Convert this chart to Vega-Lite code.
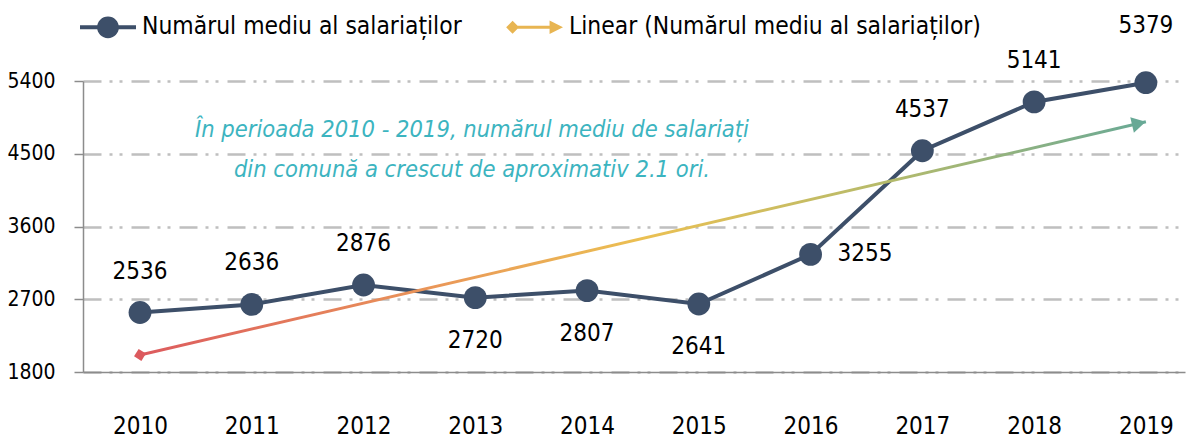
{
  "$schema": "https://vega.github.io/schema/vega-lite/v6.json",
  "width": 1102,
  "height": 291,
  "autosize": {"type": "none"},
  "padding": {"left": 83, "top": 81, "right": 7, "bottom": 67},
  "background": "white",
  "config": {
    "font": "DejaVu Sans Condensed, Roboto Condensed, Arial Narrow, sans-serif",
    "view": {"stroke": null},
    "legend": {
      "orient": "none",
      "legendX": -3,
      "legendY": -82,
      "direction": "horizontal",
      "symbolSize": 3136,
      "symbolStrokeWidth": 0,
      "symbolOpacity": 1,
      "labelFontSize": 24.4,
      "labelColor": "#000000",
      "labelOffset": 6,
      "labelLimit": 0,
      "columnPadding": 44,
      "padding": 0,
      "title": null
    }
  },
  "datasets": {
    "main": [
      {"year": 2010, "value": 2536},
      {"year": 2011, "value": 2636},
      {"year": 2012, "value": 2876},
      {"year": 2013, "value": 2720},
      {"year": 2014, "value": 2807},
      {"year": 2015, "value": 2641},
      {"year": 2016, "value": 3255},
      {"year": 2017, "value": 4537},
      {"year": 2018, "value": 5141},
      {"year": 2019, "value": 5379}
    ],
    "trend": [
      {"year": 2010, "value": 2011},
      {"year": 2019, "value": 4895}
    ],
    "note": [
      {"year": 2012.97, "value": 4794}
    ]
  },
  "encoding": {
    "x": {
      "field": "year",
      "type": "quantitative",
      "scale": {"domain": [2009.49, 2019.35], "nice": false, "zero": false},
      "axis": {
        "values": [2010, 2011, 2012, 2013, 2014, 2015, 2016, 2017, 2018, 2019],
        "format": "d",
        "grid": false,
        "ticks": false,
        "domainColor": "#8C8C8C",
        "domainWidth": 1.5,
        "labelFontSize": 24,
        "labelColor": "#000000",
        "labelPadding": 42,
        "labelFlush": false,
        "labelOverlap": false,
        "title": null
      }
    },
    "y": {
      "field": "value",
      "type": "quantitative",
      "scale": {"domain": [1800, 5400], "nice": false, "zero": false},
      "axis": {
        "values": [1800, 2700, 3600, 4500, 5400],
        "format": "d",
        "grid": true,
        "gridColor": "#BFBFBF",
        "gridWidth": 2.5,
        "gridDash": [18, 8, 3, 7, 3, 9],
        "tickSize": 9,
        "tickColor": "#8C8C8C",
        "tickWidth": 1.5,
        "domainColor": "#8C8C8C",
        "domainWidth": 1.5,
        "labelFontSize": 21,
        "labelColor": "#000000",
        "labelPadding": 19,
        "title": null
      }
    }
  },
  "layer": [
    {
      "data": {"name": "main"},
      "mark": {"type": "line", "color": "#3D4F69", "strokeWidth": 4}
    },
    {
      "data": {"name": "main"},
      "mark": {"type": "point", "filled": true, "shape": "circle", "size": 520, "color": "#3D4F69", "opacity": 1}
    },
    {
      "data": {"name": "trend"},
      "mark": {
        "type": "line",
        "strokeWidth": 3,
        "color": {
          "gradient": "linear",
          "x1": 0, "y1": 0, "x2": 1, "y2": 0,
          "stops": [
            {"offset": 0, "color": "#DC5A5E"},
            {"offset": 0.3, "color": "#EA9858"},
            {"offset": 0.5, "color": "#EBC052"},
            {"offset": 0.75, "color": "#B3BA6C"},
            {"offset": 1, "color": "#68A996"}
          ]
        }
      }
    },
    {
      "data": {"name": "trend"},
      "transform": [{"filter": "datum.year == 2010"}],
      "mark": {"type": "point", "shape": "diamond", "filled": true, "size": 150, "color": "#DC5A5E", "angle": -13, "opacity": 1}
    },
    {
      "data": {"name": "trend"},
      "transform": [{"filter": "datum.year == 2019"}],
      "mark": {"type": "point", "shape": "triangle-right", "filled": true, "size": 260, "color": "#68A996", "angle": -13, "xOffset": -7, "yOffset": 1.6, "opacity": 1}
    },
    {
      "data": {"name": "main"},
      "transform": [{"filter": "datum.year <= 2012 || (datum.year >= 2017 && datum.year <= 2018)"}],
      "mark": {"type": "text", "fontSize": 24, "color": "#000000", "baseline": "middle", "dy": -41},
      "encoding": {"text": {"field": "value", "type": "quantitative", "format": "d"}}
    },
    {
      "data": {"name": "main"},
      "transform": [{"filter": "datum.year == 2019"}],
      "mark": {"type": "text", "fontSize": 24, "color": "#000000", "baseline": "middle", "dy": -57},
      "encoding": {"text": {"field": "value", "type": "quantitative", "format": "d"}}
    },
    {
      "data": {"name": "main"},
      "transform": [{"filter": "datum.year >= 2013 && datum.year <= 2015"}],
      "mark": {"type": "text", "fontSize": 24, "color": "#000000", "baseline": "middle", "dy": 43},
      "encoding": {"text": {"field": "value", "type": "quantitative", "format": "d"}}
    },
    {
      "data": {"name": "main"},
      "transform": [{"filter": "datum.year == 2016"}],
      "mark": {"type": "text", "fontSize": 24, "color": "#000000", "baseline": "middle", "align": "left", "dx": 27},
      "encoding": {"text": {"field": "value", "type": "quantitative", "format": "d"}}
    },
    {
      "data": {"name": "note"},
      "mark": {"type": "text", "fontSize": 23.5, "fontStyle": "italic", "color": "#3CB4C0", "align": "center", "baseline": "middle", "lineHeight": 40},
      "encoding": {
        "text": {"value": ["În perioada 2010 - 2019, numărul mediu de salariați", "din comună a crescut de aproximativ 2.1 ori."]}
      }
    },
    {
      "data": {"name": "main"},
      "transform": [{"filter": "false"}],
      "mark": {"type": "point", "filled": true, "opacity": 1},
      "encoding": {
        "color": {
          "field": "series",
          "type": "nominal",
          "scale": {"domain": ["Numărul mediu al salariaților", "Linear (Numărul mediu al salariaților)"], "range": ["#3D4F69", "#E8B552"]}
        },
        "shape": {
          "field": "series",
          "type": "nominal",
          "scale": {
            "domain": ["Numărul mediu al salariaților", "Linear (Numărul mediu al salariaților)"],
            "range": [
              "M-1,-0.07L1,-0.07L1,0.07L-1,0.07Z M-0.39,0A0.39,0.39 0 1 1 0.39,0A0.39,0.39 0 1 1 -0.39,0Z",
              "M-1.03,0L-0.8,-0.23L-0.57,0L-0.8,0.23Z M-0.8,-0.055L0.6,-0.055L0.6,0.055L-0.8,0.055Z M0.52,-0.24L1,0L0.52,0.24Z"
            ]
          }
        }
      }
    }
  ]
}
